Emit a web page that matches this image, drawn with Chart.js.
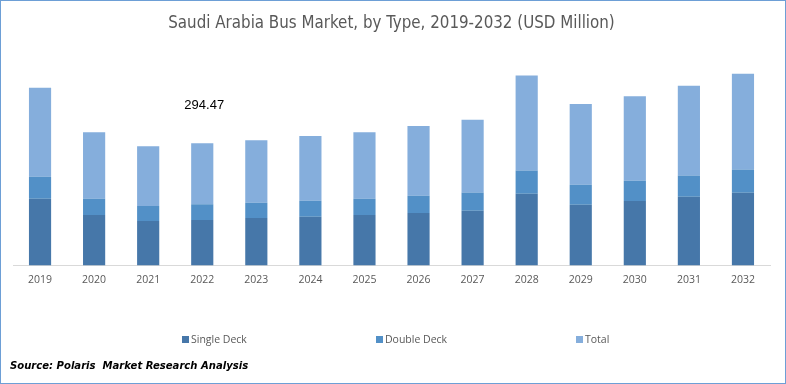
<!DOCTYPE html>
<html lang="en">
<head>
    <meta charset="UTF-8">
    <title>Saudi Arabia Bus Market</title>
    <script src="https://cdn.jsdelivr.net/npm/chart.js"></script>
    <style>
        html, body { margin: 0; padding: 0; background: #fff; }
        #wrap {
            position: relative;
            width: 786px; height: 384px;
            box-sizing: border-box;
            border: 1px solid #6d9fd6;
            overflow: hidden;
        }
        #chartBox { position: absolute; left: 0; top: 0; width: 784px; height: 382px; }
        #legend { position: absolute; top: 331px; left: 0; width: 784px; height: 14px;
            font-family: "Open Sans", sans-serif; font-size: 10.5px; color: #595959; }
        #legend .item { position: absolute; top: 0; white-space: nowrap; line-height: 14px; }
        #legend .box { display: inline-block; width: 7px; height: 7px; margin-right: 2px; vertical-align: 0px; }
        #source { position: absolute; left: 9px; top: 358px;
            font-family: "Liberation Sans Narrow", "DejaVu Sans Condensed", sans-serif;
            font-weight: bold; font-style: italic; font-size: 11.2px; color: #000; white-space: pre; }
    </style>
</head>
<body>
<div id="wrap">
    <div id="chartBox"><canvas id="busChart"></canvas></div>
    <div id="legend"></div>
    <div id="source">Source: Polaris  Market Research Analysis</div>
</div>
<script>
    // chart data
    const years = ['2019', '2020', '2021', '2022', '2023', '2024', '2025', '2026', '2027', '2028', '2029', '2030', '2031', '2032'];
    const singleDeck = [321, 243, 214, 219.5, 229, 234, 243, 253, 263, 346, 292, 311, 331, 350];
    const doubleDeck = [107, 78, 73, 75, 73, 78, 78, 83, 88, 112, 97, 97, 102, 112];
    const total = [428, 321, 287, 294.47, 302, 312, 321, 336, 351, 458, 389, 408, 433, 462];
    const seriesNames = ['Single Deck', 'Double Deck', 'Total'];
    const seriesColors = ['#4677A9', '#5290C7', '#85AEDC'];
    const labelIndex = 3; // 2022 annotated

    const legendLeft = [181, 375, 575];

    // value label for one bar
    const valueLabel = {
        id: 'valueLabel',
        afterDatasetsDraw(chart) {
            const ctx = chart.ctx;
            const x = chart.scales.x.getPixelForValue(labelIndex);
            const top = singleDeck[labelIndex] + doubleDeck[labelIndex] + total[labelIndex];
            const y = chart.scales.y.getPixelForValue(top);
            ctx.save();
            ctx.font = '13px "Liberation Sans", sans-serif';
            ctx.fillStyle = '#000';
            ctx.textAlign = 'center';
            ctx.textBaseline = 'middle';
            ctx.fillText(total[labelIndex].toFixed(2), x + 2, y - 38);
            ctx.restore();
        }
    };

    const data = [singleDeck, doubleDeck, total];
    const ctx = document.getElementById('busChart').getContext('2d');
    new Chart(ctx, {
        type: 'bar',
        data: {
            labels: years,
            datasets: data.map((vals, i) => ({
                label: seriesNames[i],
                data: vals,
                backgroundColor: seriesColors[i],
                borderWidth: 0,
                categoryPercentage: 1,
                barPercentage: 0.41
            }))
        },
        options: {
            responsive: true,
            maintainAspectRatio: false,
            animation: false,
            layout: { padding: { left: 12, right: 15, top: 0, bottom: 97 } },
            plugins: {
                legend: { display: false },
                tooltip: { enabled: false },
                title: {
                    display: true,
                    text: 'Saudi Arabia Bus Market, by Type, 2019-2032 (USD Million)',
                    color: '#595959',
                    font: { family: '"Liberation Sans Narrow", "DejaVu Sans Condensed", sans-serif', size: 16.8, weight: 'normal' },
                    padding: { top: 13, bottom: 17 }
                }
            },
            scales: {
                x: {
                    stacked: true,
                    grid: { display: false },
                    border: { display: true, color: '#d9d9d9', width: 1 },
                    ticks: { color: '#595959', padding: 0, font: { family: '"Open Sans", sans-serif', size: 10.5 } }
                },
                y: {
                    stacked: true,
                    display: false,
                    min: 0,
                    max: 1033
                }
            }
        },
        plugins: [valueLabel]
    });

    // legend row
    const legendEl = document.getElementById('legend');
    seriesNames.forEach((name, i) => {
        const item = document.createElement('div');
        item.className = 'item';
        item.style.left = legendLeft[i] + 'px';
        item.innerHTML = '<span class="box" style="background:' + seriesColors[i] + '"></span>' + name;
        legendEl.appendChild(item);
    });
</script>
</body>
</html>
